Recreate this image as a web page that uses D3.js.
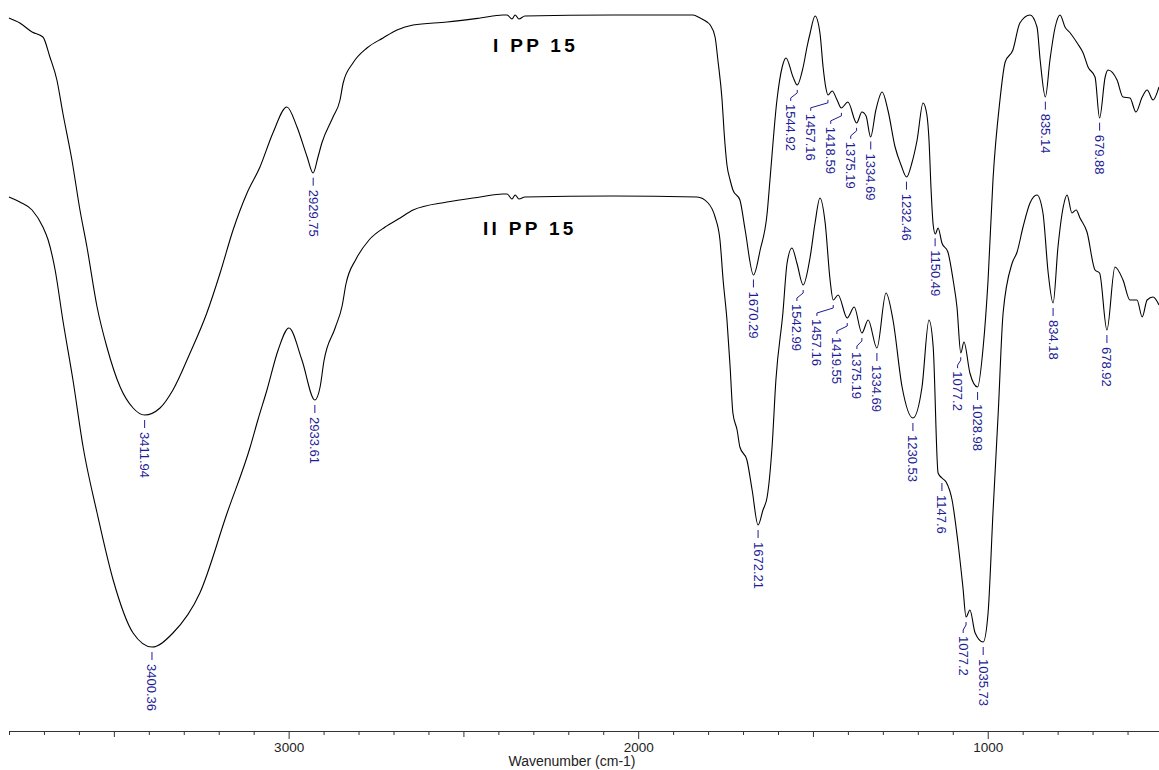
<!DOCTYPE html>
<html>
<head>
<meta charset="utf-8">
<script src="https://cdn.jsdelivr.net/npm/d3@7"></script>
<style>
  body { margin: 0; background: #fff; }
  svg { display: block; }
  text { font-family: "Liberation Sans", Arial, Helvetica, sans-serif; }
</style>
</head>
<body>
<svg width="1159" height="770"></svg>
<script>
// Spectrum I PP 15 : [wavenumber, transmittance]
var specI = [[3800,68.2],[3769,67.7],[3734,66.8],[3703,66.3],[3683,64.3],[3663,62.0],[3646,58.7],[3620,54.0],
  [3597,49.0],[3577,45.3],[3548,39.3],[3520,35.3],[3482,31.3],[3445,29.2],[3412,28.5],[3368,29.2],[3331,31.0],
  [3282,34.7],[3234,38.7],[3196,42.7],[3159,47.0],[3119,50.7],[3082,53.3],[3045,56.7],[3005,59.3],[2976,57.3],
  [2947,54.3],[2930,52.7],[2916,54.3],[2905,55.7],[2873,58.3],[2853,60.0],[2844,61.7],[2816,63.7],[2776,65.2],
  [2730,66.2],[2690,67.0],[2644,67.5],[2547,67.8],[2452,68.2],[2387,68.5],[2375,68.5],[2361,68.1],[2352,68.5],
  [2341,68.1],[2324,68.4],[2072,68.5],[1843,68.5],[1823,68.2],[1803,67.8],[1794,67.5],[1780,66.3],[1772,64.0],
  [1760,60.0],[1754,56.7],[1746,53.5],[1737,52.0],[1729,51.0],[1709,50.0],[1694,47.0],[1670,42.5],[1651,45.0],
  [1631,48.7],[1623,52.0],[1603,60.0],[1588,63.3],[1577,64.2],[1557,62.3],[1545,61.5],[1528,63.3],[1517,65.3],
  [1508,66.7],[1494,68.4],[1480,66.7],[1471,63.3],[1463,61.2],[1457,60.5],[1445,60.9],[1431,60.0],[1419,59.2],
  [1400,59.8],[1375,57.7],[1360,58.8],[1348,58.4],[1335,56.3],[1320,59.0],[1302,60.8],[1285,58.9],[1265,55.3],
  [1248,53.5],[1232,52.3],[1217,53.7],[1202,56.0],[1185,59.7],[1174,58.5],[1168,56.0],[1162,51.0],[1156,47.5],
  [1150,46.6],[1142,47.2],[1131,45.7],[1114,44.8],[1099,42.0],[1088,39.3],[1077,34.7],[1068,35.8],[1051,32.7],
  [1029,31.3],[1013,35.3],[999,42.0],[985,52.0],[965,60.0],[950,63.8],[928,65.0],[908,67.7],[879,68.5],
  [859,67.3],[850,64.0],[835,60.3],[822,64.0],[807,67.3],[793,68.5],[779,67.3],[764,66.7],[744,65.7],[727,64.7],
  [713,63.3],[693,62.3],[680,58.2],[664,62.3],[656,63.0],[630,62.0],[613,60.3],[593,60.2],[576,58.8],[558,60.3],
  [544,61.0],[527,60.0],[510,61.3]];

// Spectrum II PP 15
var specII = [[3800,50.3],[3769,49.8],[3734,49.0],[3703,47.3],[3688,46.0],[3668,43.0],[3646,38.0],[3617,32.0],
  [3588,25.3],[3548,18.7],[3502,12.0],[3445,6.7],[3391,5.3],[3331,6.7],[3254,10.7],[3176,18.7],[3110,25.3],
  [3088,28.0],[3062,31.0],[3030,35.0],[2999,37.2],[2962,34.0],[2925,30.0],[2910,31.3],[2899,33.9],[2867,37.2],
  [2847,39.4],[2836,41.6],[2807,44.1],[2770,46.0],[2724,47.3],[2681,48.2],[2644,49.0],[2547,49.8],[2452,50.3],
  [2387,50.6],[2375,50.6],[2361,50.1],[2352,50.5],[2341,50.1],[2324,50.3],[2072,50.4],[1832,50.3],[1800,49.7],
  [1780,48.3],[1766,46.0],[1757,42.0],[1746,38.0],[1737,33.3],[1729,28.7],[1717,27.0],[1709,25.3],[1689,24.0],
  [1674,21.0],[1657,17.5],[1643,19.0],[1631,20.3],[1617,25.3],[1606,32.0],[1586,38.7],[1574,43.7],[1560,45.2],
  [1546,43.7],[1528,41.5],[1508,44.3],[1494,47.7],[1480,50.2],[1465,47.7],[1451,42.0],[1442,40.0],[1428,40.5],
  [1402,38.2],[1382,39.3],[1360,36.7],[1342,38.0],[1317,35.2],[1291,40.7],[1271,38.0],[1245,31.3],[1214,28.2],
  [1188,31.3],[1168,38.0],[1156,35.3],[1142,22.7],[1131,22.2],[1119,21.8],[1102,20.0],[1085,15.7],[1071,11.3],
  [1062,8.3],[1051,9.0],[1036,6.7],[1013,5.8],[999,8.7],[985,18.7],[970,28.7],[956,38.7],[930,43.7],[916,44.8],
  [899,47.3],[879,49.7],[859,50.5],[842,48.7],[827,42.7],[813,39.7],[799,45.3],[784,49.3],[773,50.5],[759,48.7],
  [747,49.0],[736,48.2],[716,46.8],[693,43.0],[680,42.7],[659,37.0],[636,43.3],[613,42.0],[593,40.0],[573,40.0],
  [558,38.3],[544,40.0],[527,40.3],[510,39.5]];

// peak picks (label text, and where the pick sits on the trace)
var peakLabelsI = ["3411.94","2929.75","1670.29","1544.92","1457.16","1418.59","1375.19","1334.69",
  "1232.46","1150.49","1077.2","1028.98","835.14","679.88"];
var peakPosI = [3411.94,2929.75,1670.29,1544.92,1457.16,1418.59,1375.19,1334.69,
  1232.46,1150.49,1077.2,1028.98,835.14,679.88];

var peakLabelsII = ["3400.36","2933.61","1672.21","1542.99","1457.16","1419.55","1375.19","1334.69",
  "1230.53","1147.6","1077.2","1035.73","834.18","678.92"];
var peakPosII = [3391,2925,1657,1528,1442,1402,1360,1317,1214,1131,1062,1013,813,659];

var tickValues = d3.range(600, 3801, 100);

var svg = d3.select("svg");

var x = d3.scaleLinear().domain([3800, 510]).range([9, 1159]);
var y = d3.scaleLinear().domain([0, 70]).range([700, 0]);

var line = d3.line()
    .x(function(d) { return x(d[0]); })
    .y(function(d) { return y(d[1]); })
    .curve(d3.curveMonotoneX);

// axis
var xAxis = d3.axisBottom(x)
    .tickValues(tickValues)
    .tickSizeOuter(0)
    .tickFormat(function(d) { return d % 1000 === 0 ? d : ""; });

var gx = svg.append("g")
    .attr("transform", "translate(0,731)")
    .call(xAxis);
gx.attr("font-family", null).attr("font-size", null);
gx.select(".domain").attr("stroke", "#333");
gx.selectAll(".tick line")
    .attr("stroke", "#333")
    .attr("y2", function(d) { return d % 1000 === 0 ? 8 : (d % 500 === 0 ? 6 : 4); });
gx.selectAll(".tick text")
    .attr("y", 11)
    .attr("fill", "#222")
    .style("font-size", "13.5px");

svg.append("text")
    .attr("x", 572)
    .attr("y", 766)
    .attr("text-anchor", "middle")
    .attr("fill", "#222")
    .style("font-size", "14px")
    .text("Wavenumber (cm-1)");

// traces
[specI, specII].forEach(function(s) {
  svg.append("path")
      .datum(s)
      .attr("fill", "none")
      .attr("stroke", "#000")
      .attr("stroke-width", 1.1)
      .attr("d", line);
});

// value of a trace at a wavenumber (linear between read points)
function yAt(data, wn) {
  for (var i = 0; i < data.length - 1; i++) {
    var a = data[i], b = data[i + 1];
    if (wn <= a[0] && wn >= b[0]) {
      var t = (a[0] - wn) / (a[0] - b[0]);
      return a[1] + t * (b[1] - a[1]);
    }
  }
  return data[data.length - 1][1];
}

var blue = "#1c1c96";

function drawPeaks(data, labels, pos) {
  var items = labels.map(function(t, i) {
    return {t: t, px: x(pos[i]), py: y(yAt(data, pos[i]))};
  });
  // lay out from right to left, pushing crowded labels leftwards
  items.sort(function(a, b) { return b.px - a.px; });
  var prev = Infinity;
  items.forEach(function(d) { d.lx = Math.min(d.px, prev - 20); prev = d.lx; });

  var g = svg.append("g");
  items.forEach(function(d) {
    var y0 = d.py + 5, ty;
    var p;
    if (d.px - d.lx < 1) {
      p = "M" + d.px + "," + y0 + "V" + (y0 + 8);
      ty = y0 + 12;
    } else {
      p = "M" + d.px + "," + y0 + "V" + (y0 + 3) + "L" + d.lx + "," + (y0 + 8) + "V" + (y0 + 11);
      ty = y0 + 14;
    }
    g.append("path")
        .attr("d", p)
        .attr("fill", "none")
        .attr("stroke", blue)
        .attr("stroke-width", 1);
    g.append("text")
        .attr("transform", "translate(" + d.lx + "," + ty + ") rotate(90)")
        .attr("dominant-baseline", "central")
        .attr("fill", blue)
        .style("font-size", "13px")
        .text(d.t);
  });
}

drawPeaks(specI, peakLabelsI, peakPosI);
drawPeaks(specII, peakLabelsII, peakPosII);

// sample names
svg.append("text")
    .attr("x", 493).attr("y", 52)
    .style("font-size", "19px").style("font-weight", "bold").style("letter-spacing", "3.3px")
    .text("I PP 15");
svg.append("text")
    .attr("x", 483).attr("y", 235)
    .style("font-size", "19px").style("font-weight", "bold").style("letter-spacing", "3.3px")
    .text("II PP 15");
</script>
</body>
</html>
